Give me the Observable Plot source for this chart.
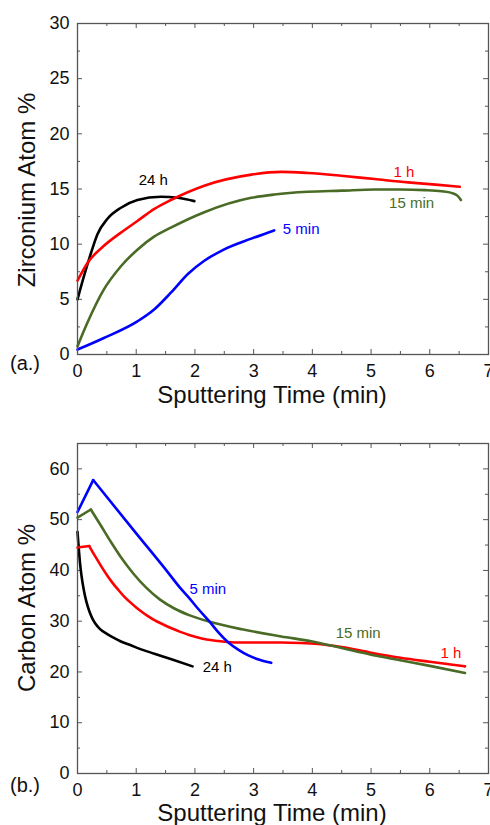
<!DOCTYPE html>
<html><head><meta charset="utf-8">
<script src="https://cdn.jsdelivr.net/npm/d3@7"></script>
<script src="https://cdn.jsdelivr.net/npm/@observablehq/plot@0.6"></script>
<style>
body{margin:0;background:#fff;font-family:"Liberation Sans",Arial,sans-serif}
#wrap{position:relative;width:490px;height:825px;overflow:hidden;background:#fff}
#wrap svg{position:absolute;left:0;overflow:visible}
.lbl{position:absolute;color:#111;white-space:nowrap;line-height:1;transform:translate(-50%,-50%)}
.rot{transform:translate(-50%,-50%) rotate(-90deg)}
</style></head><body><div id="wrap"></div>
<script>
// ---------- axis ticks ----------
const xTicks = [0, 1, 2, 3, 4, 5, 6, 7];
const xMinor = [0.5, 1.5, 2.5, 3.5, 4.5, 5.5, 6.5];
const zrTicks = [0, 5, 10, 15, 20, 25, 30];
const zrMinor = [2.5, 7.5, 12.5, 17.5, 22.5, 27.5];
const cTicks = [0, 10, 20, 30, 40, 50, 60];
const cMinor = [5, 15, 25, 35, 45, 55];

// ---------- series ----------
const seriesNames = ["24 h", "1 h", "15 min", "5 min"];
const seriesColors = ["#000000", "#ff0000", "#4a6b26", "#0000ff"];

// (a.) Zirconium atom %
const zr24hT = [0, 0.11, 0.23, 0.34, 0.51, 0.74, 1.02, 1.42, 1.71, 1.99];
const zr24hV = [5.0, 7.1, 9.2, 10.9, 12.3, 13.3, 14.0, 14.3, 14.2, 13.9];
const zr1hT = [0, 0.17, 0.45, 0.74, 1.02, 1.31, 1.59, 2.16, 2.96, 3.47, 3.92, 4.49, 5.06, 5.63, 6.1, 6.51];
const zr1hV = [6.7, 8.3, 9.85, 11.05, 12.1, 13.2, 14.0, 15.3, 16.3, 16.55, 16.45, 16.2, 15.9, 15.6, 15.4, 15.2];
const zr15T = [0, 0.17, 0.45, 0.74, 1.02, 1.31, 1.59, 2.16, 2.96, 3.35, 3.92, 4.5, 5.06, 5.5, 5.92, 6.2, 6.37, 6.47, 6.53];
const zr15V = [0.75, 2.9, 5.9, 8.0, 9.5, 10.7, 11.5, 12.9, 14.2, 14.5, 14.75, 14.85, 14.95, 14.95, 14.9, 14.8, 14.65, 14.4, 14.0];
const zr5T = [0, 0.45, 1.02, 1.31, 1.59, 1.88, 2.16, 2.45, 2.96, 3.35];
const zr5V = [0.45, 1.5, 3.0, 4.1, 5.6, 7.3, 8.5, 9.4, 10.5, 11.25];

// (b.) Carbon atom %
const c24hT = [0, 0.02, 0.04, 0.07, 0.11, 0.15, 0.2, 0.25, 0.3, 0.38, 0.5, 0.62, 0.74, 0.9, 1.05, 1.31, 1.6, 1.96];
const c24hV = [47.6, 44.5, 41.8, 38.8, 36.0, 33.9, 32.0, 30.6, 29.6, 28.5, 27.5, 26.7, 26.0, 25.3, 24.6, 23.6, 22.5, 21.1];
const c1hT = [0, 0.2, 0.3, 0.4, 0.5, 0.6, 0.7, 0.8, 0.9, 1.0, 1.1, 1.2, 1.31, 1.45, 1.6, 1.75, 1.9, 2.05, 2.2, 2.4, 2.56, 2.8, 3.1, 3.47, 3.8, 4.1, 4.5, 5.0, 5.5, 6.0, 6.6];
const c1hV = [44.5, 44.8, 42.8, 40.9, 39.1, 37.5, 36.1, 34.8, 33.7, 32.7, 31.8, 31.0, 30.2, 29.4, 28.6, 27.9, 27.3, 26.8, 26.4, 26.1, 25.9, 25.8, 25.8, 25.8, 25.7, 25.5, 24.9, 23.8, 22.8, 22.0, 21.1];
const c15T = [0, 0.227, 0.4, 0.57, 0.74, 0.95, 1.17, 1.4, 1.65, 1.9, 2.25, 2.8, 3.47, 4.0, 4.5, 5.0, 5.5, 6.0, 6.6];
const c15V = [50.4, 52.0, 48.8, 45.6, 42.6, 39.4, 36.6, 34.3, 32.5, 31.2, 29.9, 28.4, 27.0, 26.0, 24.7, 23.4, 22.3, 21.2, 19.8];
const c5T = [0, 0.267, 1.0, 1.5, 1.76, 1.9, 2.05, 2.25, 2.4, 2.56, 2.75, 2.9, 3.1, 3.3];
const c5V = [51.5, 57.8, 47.3, 40.2, 36.4, 34.6, 32.5, 29.9, 27.8, 25.9, 24.3, 23.3, 22.4, 21.8];

// ---------- in-plot labels ----------
const zrLabelNames = ["24 h", "1 h", "15 min", "5 min"];
const zrLabelT = [1.29, 5.56, 5.69, 3.81];
const zrLabelV = [15.8, 16.5, 13.7, 11.4];
const cLabelNames = ["24 h", "1 h", "15 min", "5 min"];
const cLabelT = [2.38, 6.36, 4.78, 2.22];
const cLabelV = [21.0, 23.6, 27.6, 36.3];

// ---------- build tables ----------
function rows(name, ts, vs, splitAtPeak) {
  let peak = -1;
  if (splitAtPeak) {
    peak = vs.indexOf(Math.max(...vs));
    if (peak === 0 || peak === vs.length - 1) peak = -1;
  }
  const out = [];
  ts.forEach((t, i) => {
    if (peak < 0) out.push({name, seg: name, t, v: vs[i]});
    else {
      if (i <= peak) out.push({name, seg: name + "#a", t, v: vs[i]});
      if (i >= peak) out.push({name, seg: name + "#b", t, v: vs[i]});
    }
  });
  return out;
}
const zrData = [
  ...rows("24 h", zr24hT, zr24hV, false),
  ...rows("1 h", zr1hT, zr1hV, false),
  ...rows("15 min", zr15T, zr15V, false),
  ...rows("5 min", zr5T, zr5V, false)
];
const cData = [
  ...rows("24 h", c24hT, c24hV, true),
  ...rows("1 h", c1hT, c1hV, true),
  ...rows("15 min", c15T, c15V, true),
  ...rows("5 min", c5T, c5V, true)
];
const zrLabels = zrLabelNames.map((name, i) => ({name, t: zrLabelT[i], v: zrLabelV[i]}));
const cLabels = cLabelNames.map((name, i) => ({name, t: cLabelT[i], v: cLabelV[i]}));

const W = 490, ML = 77, MR = 2;
const AX = "#555";

function panel({height, marginTop, marginBottom, ymax, yTicks, yMinor, data, labels}) {
  const plotH = height - marginTop - marginBottom;
  const plotW = W - ML - MR;
  const maj = 5, min = 3;
  return Plot.plot({
    width: W, height, marginTop, marginBottom, marginLeft: ML, marginRight: MR,
    x: {domain: [0, 7]},
    y: {domain: [0, ymax]},
    color: {type: "ordinal", domain: seriesNames, range: seriesColors},
    style: {fontFamily: "'Liberation Sans', Arial, sans-serif", fontSize: "18px", color: "#111", background: "transparent", overflow: "visible"},
    marks: [
      Plot.tickX(xTicks, {x: d => d, stroke: AX, insetTop: plotH - maj}),
      Plot.tickX(xMinor, {x: d => d, stroke: AX, insetTop: plotH - min}),
      Plot.tickX(xTicks, {x: d => d, stroke: AX, insetBottom: plotH - maj}),
      Plot.tickX(xMinor, {x: d => d, stroke: AX, insetBottom: plotH - min}),
      Plot.tickY(yTicks, {y: d => d, stroke: AX, insetRight: plotW - maj}),
      Plot.tickY(yMinor, {y: d => d, stroke: AX, insetRight: plotW - min}),
      Plot.tickY(yTicks, {y: d => d, stroke: AX, insetLeft: plotW - maj}),
      Plot.tickY(yMinor, {y: d => d, stroke: AX, insetLeft: plotW - min}),
      Plot.axisX(xTicks, {anchor: "bottom", tickSize: 0, tickPadding: 10, label: null, fontSize: 18, fill: "#111"}),
      Plot.axisY(yTicks, {anchor: "left", tickSize: 0, tickPadding: 8, label: null, fontSize: 18, fill: "#111"}),
      Plot.line(data, {x: "t", y: "v", z: "seg", stroke: "name", strokeWidth: 2.6, curve: "monotone-x"}),
      Plot.text(labels, {x: "t", y: "v", text: "name", fill: "name", fontSize: 15, textAnchor: "middle", lineAnchor: "middle"}),
      Plot.frame({stroke: AX, strokeWidth: 1.3})
    ]
  });
}

const wrap = document.getElementById("wrap");
const top1 = panel({height: 410, marginTop: 23, marginBottom: 56, ymax: 30, yTicks: zrTicks, yMinor: zrMinor, data: zrData, labels: zrLabels});
top1.style.top = "0px";
wrap.appendChild(top1);
const bot = panel({height: 415, marginTop: 33, marginBottom: 52, ymax: 65, yTicks: cTicks, yMinor: cMinor, data: cData, labels: cLabels});
bot.style.top = "410px";
wrap.appendChild(bot);

function addLabel(text, x, y, size, rotate) {
  const d = document.createElement("div");
  d.className = "lbl" + (rotate ? " rot" : "");
  d.textContent = text;
  d.style.left = x + "px";
  d.style.top = y + "px";
  d.style.fontSize = size + "px";
  wrap.appendChild(d);
}
addLabel("Sputtering Time (min)", 272, 395, 24, false);
addLabel("Sputtering Time (min)", 272, 813, 24, false);
addLabel("Zirconium Atom %", 27, 190, 24, true);
addLabel("Carbon Atom %", 27, 608, 24, true);
addLabel("(a.)", 25, 363, 20, false);
addLabel("(b.)", 25, 785, 20, false);
</script>
</body></html>
